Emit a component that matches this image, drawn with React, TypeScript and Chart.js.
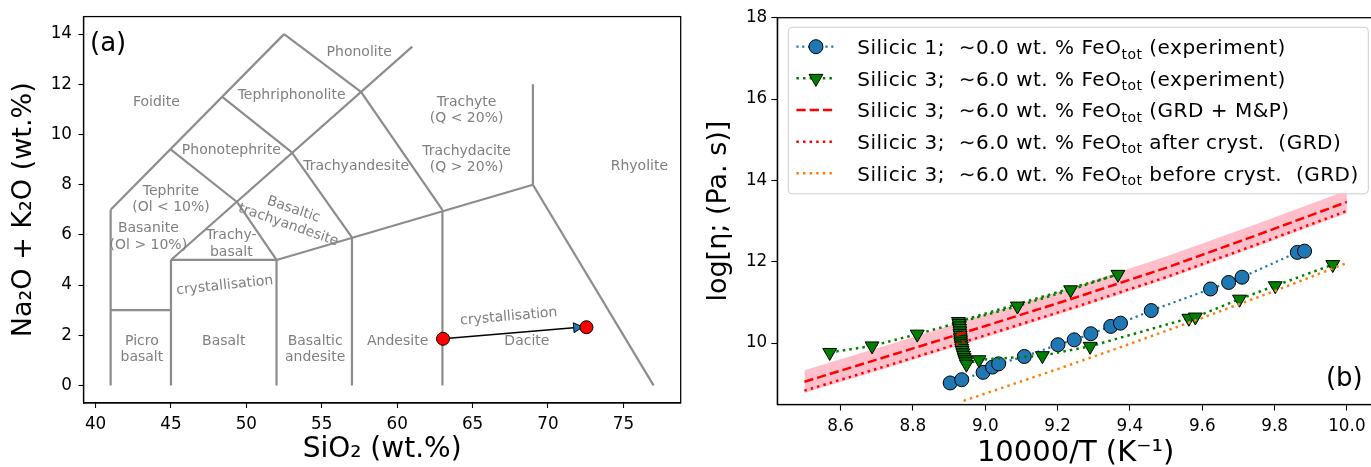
import React, { useEffect, useRef } from "react";
import { Chart, registerables } from "chart.js";

Chart.register(...registerables);
Chart.defaults.font.family = "'DejaVu Sans', 'Noto Sans', sans-serif";

// ---------------- Panel (a): TAS diagram ----------------
// boundary segments [SiO2 start, alkali start, SiO2 end, alkali end]
const tasSegments: number[][] = [
  [41, 0, 41, 7],
  [41, 7, 52.5, 14],
  [45, 0, 45, 5],
  [41, 3, 45, 3],
  [45, 5, 61, 13.5],
  [45, 5, 52, 5],
  [52, 5, 69, 8],
  [49.4, 7.3, 52, 5],
  [52, 5, 52, 0],
  [48.4, 11.5, 53, 9.3],
  [53, 9.3, 57, 5.9],
  [57, 5.9, 57, 0],
  [52.5, 14, 57.6, 11.7],
  [57.6, 11.7, 63, 7],
  [63, 7, 63, 0],
  [69, 12, 69, 8],
  [45, 9.4, 49.4, 7.3],
  [69, 8, 77, 0],
];

const fieldNames = [
  "Picro\nbasalt",
  "Basalt",
  "Basaltic\nandesite",
  "Andesite",
  "Dacite",
  "Rhyolite",
  "Trachyte\n(Q < 20%)\n\nTrachydacite\n(Q > 20%)",
  "Basaltic\ntrachyandesite",
  "Trachy-\nbasalt",
  "Trachyandesite",
  "Phonotephrite",
  "Tephriphonolite",
  "Phonolite",
  "Tephrite\n(Ol < 10%)",
  "Foidite",
  "Basanite\n(Ol > 10%)",
  "crystallisation",
  "crystallisation",
];
const fieldSiO2 = [43.07, 48.5, 54.56, 60.03, 68.6, 76.06, 64.6, 52.95, 49.0, 57.28, 49.0, 53.0, 57.48, 45.0, 44.03, 43.5, 48.57, 67.4];
const fieldAlkali = [1.43, 1.76, 1.43, 1.76, 1.76, 8.75, 9.98, 6.7, 5.64, 8.75, 9.35, 11.56, 13.26, 7.41, 11.27, 5.92, 3.98, 2.74];
const fieldRotation = [0, 0, 0, 0, 0, 0, 0, 19, 0, 0, 0, 0, 0, 0, 0, 0, -6, -5];

const sampleSiO2 = [63.04, 72.55];
const sampleAlkali = [1.86, 2.32];
const arrowSiO2 = [63.04, 72.3];
const arrowAlkali = [1.86, 2.33];

const tasXTicks = [40, 45, 50, 55, 60, 65, 70, 75];
const tasYTicks = [0, 2, 4, 6, 8, 10, 12, 14];

// ---------------- Panel (b): viscosity ----------------
const sil1InvT = [8.903, 8.935, 8.994, 9.02, 9.037, 9.108, 9.201, 9.246, 9.292, 9.347, 9.374, 9.459, 9.623, 9.673, 9.71, 9.863, 9.883];
const sil1LogEta = [9.02, 9.1, 9.28, 9.41, 9.49, 9.67, 9.96, 10.08, 10.23, 10.41, 10.49, 10.8, 11.33, 11.49, 11.62, 12.23, 12.26];

const sil3InvT = [
  8.57, 8.687, 8.812, 9.089, 9.236, 9.367,
  8.926, 8.927, 8.928, 8.929, 8.93, 8.93, 8.931, 8.931, 8.932, 8.932, 8.933, 8.934,
  8.935, 8.936, 8.938, 8.94, 8.942, 8.944, 8.946, 8.948,
  8.983, 9.158, 9.29, 9.563, 9.581, 9.703, 9.802, 9.961,
];
const sil3LogEta = [
  9.77, 9.93, 10.22, 10.91, 11.31, 11.69,
  10.53, 10.48, 10.42, 10.36, 10.3, 10.24, 10.19, 10.13, 10.08, 10.03, 9.98, 9.93,
  9.87, 9.82, 9.76, 9.7, 9.64, 9.59, 9.54, 9.48,
  9.59, 9.69, 9.92, 10.61, 10.64, 11.08, 11.41, 11.93,
];

const grdInvT = [8.5, 8.75, 9.0, 9.25, 9.5, 9.75, 10.0];
const grdLogEta = [9.05, 9.73, 10.42, 11.12, 11.85, 12.65, 13.47];
const grdUpper = [9.33, 10.01, 10.7, 11.4, 12.13, 12.93, 13.75];
const grdLower = [8.77, 9.45, 10.14, 10.84, 11.57, 12.37, 13.19];
const afterLogEta = [8.83, 9.5, 10.19, 10.89, 11.62, 12.42, 13.25];

const beforeInvT = [8.94, 9.2, 9.4, 9.6, 9.8, 10.0];
const beforeLogEta = [8.58, 9.36, 9.98, 10.62, 11.28, 11.97];

const viscXTicks = [8.6, 8.8, 9.0, 9.2, 9.4, 9.6, 9.8, 10.0];
const viscYTicks = [10, 12, 14, 16, 18];

const legendLabels = [
  "Silicic 1;  ∼0.0 wt. % FeO_{tot} (experiment)",
  "Silicic 3;  ∼6.0 wt. % FeO_{tot} (experiment)",
  "Silicic 3;  ∼6.0 wt. % FeO_{tot} (GRD + M&P)",
  "Silicic 3;  ∼6.0 wt. % FeO_{tot} after cryst.  (GRD)",
  "Silicic 3;  ∼6.0 wt. % FeO_{tot} before cryst.  (GRD)",
];

const zip = (xs: number[], ys: number[]) => xs.map((x, i) => ({ x, y: ys[i] }));

const FONT = "'DejaVu Sans', 'Noto Sans', sans-serif";
const GRAY_LINE = "#8c8c8c";
const GRAY_TEXT = "#7f7f7f";

const framePlugin = {
  id: "frame",
  afterDraw(chart: any) {
    const { ctx, chartArea: a } = chart;
    ctx.save();
    ctx.strokeStyle = "#000";
    ctx.lineWidth = 1.25;
    ctx.strokeRect(a.left, a.top, a.right - a.left, a.bottom - a.top);
    ctx.restore();
  },
};

const tasPlugin = {
  id: "tasDecor",
  beforeDatasetDraw(chart: any, args: any) {
    if (args.index !== chart.data.datasets.length - 1) return;
    const { ctx } = chart;
    const xs = chart.scales.x;
    const ys = chart.scales.y;
    const x0 = xs.getPixelForValue(arrowSiO2[0]);
    const y0 = ys.getPixelForValue(arrowAlkali[0]);
    const x1 = xs.getPixelForValue(arrowSiO2[1]);
    const y1 = ys.getPixelForValue(arrowAlkali[1]);
    const ang = Math.atan2(y1 - y0, x1 - x0);
    const headLen = 9;
    const headW = 5;
    const bx = x1 - headLen * Math.cos(ang);
    const by = y1 - headLen * Math.sin(ang);
    ctx.save();
    ctx.strokeStyle = "#000";
    ctx.lineWidth = 1.4;
    ctx.beginPath();
    ctx.moveTo(x0, y0);
    ctx.lineTo(bx, by);
    ctx.stroke();
    ctx.beginPath();
    ctx.moveTo(x1, y1);
    ctx.lineTo(bx - headW * Math.sin(ang), by + headW * Math.cos(ang));
    ctx.lineTo(bx + headW * Math.sin(ang), by - headW * Math.cos(ang));
    ctx.closePath();
    ctx.fillStyle = "#1f77b4";
    ctx.fill();
    ctx.lineWidth = 1;
    ctx.stroke();
    ctx.restore();
  },
  afterDatasetsDraw(chart: any) {
    const { ctx, chartArea: a } = chart;
    const xs = chart.scales.x;
    const ys = chart.scales.y;
    ctx.save();
    ctx.fillStyle = GRAY_TEXT;
    ctx.font = `14px ${FONT}`;
    ctx.textAlign = "center";
    ctx.textBaseline = "middle";
    const lh = 16.3;
    fieldNames.forEach((name, i) => {
      const lines = name.split("\n");
      const px = xs.getPixelForValue(fieldSiO2[i]);
      const py = ys.getPixelForValue(fieldAlkali[i]);
      ctx.save();
      ctx.translate(px, py);
      ctx.rotate((fieldRotation[i] * Math.PI) / 180);
      lines.forEach((ln, j) => {
        ctx.fillText(ln, 0, (j - (lines.length - 1) / 2) * lh);
      });
      ctx.restore();
    });
    ctx.fillStyle = "#000";
    ctx.font = `26px ${FONT}`;
    ctx.textAlign = "left";
    ctx.textBaseline = "alphabetic";
    ctx.fillText("(a)", a.left + 6.5, a.top + 34);
    ctx.restore();
  },
};

function drawLegendMarker(ctx: any, style: string, cx: number, cy: number, r: number, fill: string) {
  ctx.beginPath();
  if (style === "circle") {
    ctx.arc(cx, cy, r, 0, Math.PI * 2);
  } else {
    ctx.moveTo(cx, cy + r);
    ctx.lineTo(cx - r * Math.sin(Math.PI / 3), cy - r * 0.5);
    ctx.lineTo(cx + r * Math.sin(Math.PI / 3), cy - r * 0.5);
    ctx.closePath();
  }
  ctx.fillStyle = fill;
  ctx.fill();
  ctx.strokeStyle = "#000";
  ctx.lineWidth = 1;
  ctx.setLineDash([]);
  ctx.stroke();
}

const viscPlugin = {
  id: "viscDecor",
  afterDraw(chart: any) {
    const { ctx, chartArea: a } = chart;
    ctx.save();
    // (b) label
    ctx.fillStyle = "#000";
    ctx.font = `26px ${FONT}`;
    ctx.textAlign = "right";
    ctx.textBaseline = "alphabetic";
    ctx.fillText("(b)", a.right - 11.3, a.bottom - 19);

    // legend
    const bx = a.left + 11;
    const by = a.top + 9.6;
    const bw = 580;
    const bh = 166.5;
    const rr = 4;
    ctx.beginPath();
    ctx.moveTo(bx + rr, by);
    ctx.lineTo(bx + bw - rr, by);
    ctx.arcTo(bx + bw, by, bx + bw, by + rr, rr);
    ctx.lineTo(bx + bw, by + bh - rr);
    ctx.arcTo(bx + bw, by + bh, bx + bw - rr, by + bh, rr);
    ctx.lineTo(bx + rr, by + bh);
    ctx.arcTo(bx, by + bh, bx, by + bh - rr, rr);
    ctx.lineTo(bx, by + rr);
    ctx.arcTo(bx, by, bx + rr, by, rr);
    ctx.closePath();
    ctx.fillStyle = "rgba(255,255,255,0.8)";
    ctx.fill();
    ctx.strokeStyle = "#cccccc";
    ctx.lineWidth = 1;
    ctx.stroke();

    const dsIdx = [2, 3, 4, 5, 6];
    legendLabels.forEach((label, i) => {
      const ds = chart.data.datasets[dsIdx[i]];
      const cy = by + 19.4 + i * 31.65;
      const hx0 = bx + 8.1;
      const hx1 = bx + 47.2;
      ctx.save();
      ctx.strokeStyle = ds.borderColor;
      ctx.lineWidth = ds.borderWidth;
      ctx.setLineDash(ds.borderDash || []);
      ctx.beginPath();
      ctx.moveTo(hx0, cy);
      ctx.lineTo(hx1, cy);
      ctx.stroke();
      ctx.restore();
      if (ds.pointRadius > 0) {
        drawLegendMarker(ctx, ds.pointStyle === "triangle" ? "tri" : "circle", (hx0 + hx1) / 2, cy, ds.pointRadius, ds.pointBackgroundColor);
      }
      // text with subscript
      const m = label.match(/^(.*)_\{(.*?)\}(.*)$/);
      const pre = m ? m[1] : label;
      const sub = m ? m[2] : "";
      const post = m ? m[3] : "";
      const baseY = cy + 7.3;
      let tx = bx + 69;
      ctx.fillStyle = "#000";
      ctx.textAlign = "left";
      ctx.textBaseline = "alphabetic";
      (ctx as any).letterSpacing = "0.5px";
      ctx.font = `20px ${FONT}`;
      ctx.fillText(pre, tx, baseY);
      tx += ctx.measureText(pre).width;
      ctx.font = `14px ${FONT}`;
      ctx.fillText(sub, tx, baseY + 4.5);
      tx += ctx.measureText(sub).width;
      ctx.font = `20px ${FONT}`;
      ctx.fillText(post, tx, baseY);
      (ctx as any).letterSpacing = "0px";
    });
    ctx.restore();
  },
};

function axisCommon(ticksArr: number[], fmt: (v: number) => string, tickLen: number, pad: number) {
  return {
    type: "linear" as const,
    afterBuildTicks: (s: any) => {
      s.ticks = ticksArr.map((v) => ({ value: v }));
    },
    ticks: {
      color: "#000",
      font: { size: 16.8 },
      padding: pad,
      autoSkip: false,
      maxRotation: 0,
      callback: (v: any) => fmt(Number(v)),
    },
    grid: { drawOnChartArea: false, drawTicks: true, tickLength: tickLen, color: "#000", tickWidth: 1.1 },
    border: { display: true, color: "#000", width: 1.25 },
  };
}

export default function App() {
  const leftRef = useRef<HTMLCanvasElement>(null);
  const rightRef = useRef<HTMLCanvasElement>(null);

  useEffect(() => {
    const segDatasets = tasSegments.map((s) => ({
      data: [
        { x: s[0], y: s[1] },
        { x: s[2], y: s[3] },
      ],
      showLine: true,
      borderColor: GRAY_LINE,
      borderWidth: 2.2,
      pointRadius: 0,
      fill: false,
      order: 2,
    }));
    const left = new Chart(leftRef.current!, {
      type: "scatter",
      data: {
        datasets: [
          ...segDatasets,
          {
            data: zip(sampleSiO2, sampleAlkali),
            showLine: false,
            pointRadius: 6.5,
            pointBackgroundColor: "#ff0000",
            pointBorderColor: "#000",
            pointBorderWidth: 1,
            order: 1,
          },
        ] as any,
      },
      options: {
        responsive: false,
        animation: false,
        devicePixelRatio: 1,
        layout: { padding: { top: 15.5, right: 9.3, left: 0, bottom: 0 } },
        plugins: { legend: { display: false }, tooltip: { enabled: false } },
        scales: {
          x: {
            ...axisCommon(tasXTicks, (v) => String(v), 5, 7),
            min: 39.2,
            max: 78.8,
            afterFit: (s: any) => {
              s.height = 64;
            },
            title: {
              display: true,
              text: "SiO₂ (wt.%)",
              color: "#000",
              font: { size: 28, lineHeight: 1.2 },
              padding: { top: 0, bottom: 0 },
            },
          },
          y: {
            ...axisCommon(tasYTicks, (v) => String(v), 5, 6.5),
            min: -0.7,
            max: 14.7,
            afterFit: (s: any) => {
              s.width = 83.5;
            },
            title: {
              display: true,
              text: "Na₂O + K₂O (wt.%)",
              color: "#000",
              font: { size: 27, lineHeight: 1.2 },
              padding: { top: 8.1, bottom: 0 },
            },
          },
        } as any,
      },
      plugins: [tasPlugin, framePlugin],
    });

    const right = new Chart(rightRef.current!, {
      type: "scatter",
      data: {
        datasets: [
          {
            data: zip(grdInvT, grdUpper),
            showLine: true,
            borderWidth: 0,
            borderColor: "rgba(0,0,0,0)",
            pointRadius: 0,
            fill: false,
            order: 10,
          },
          {
            data: zip(grdInvT, grdLower),
            showLine: true,
            borderWidth: 0,
            borderColor: "rgba(0,0,0,0)",
            backgroundColor: "rgb(255,192,203)",
            pointRadius: 0,
            fill: "-1",
            order: 9,
          },
          {
            data: zip(sil1InvT, sil1LogEta),
            showLine: true,
            borderColor: "#1f77b4",
            borderWidth: 2.2,
            borderDash: [2.2, 3.6],
            pointRadius: 7,
            pointStyle: "circle",
            pointBackgroundColor: "#1f77b4",
            pointBorderColor: "#000",
            pointBorderWidth: 1,
            order: 5,
          },
          {
            data: zip(sil3InvT, sil3LogEta),
            showLine: true,
            borderColor: "#008000",
            borderWidth: 2.5,
            borderDash: [2.5, 4.1],
            pointRadius: 8,
            pointStyle: "triangle",
            pointRotation: 180,
            pointBackgroundColor: "#008000",
            pointBorderColor: "#000",
            pointBorderWidth: 1,
            order: 4,
          },
          {
            data: zip(grdInvT, grdLogEta),
            showLine: true,
            borderColor: "#ff0000",
            borderWidth: 2.5,
            borderDash: [9.25, 4],
            pointRadius: 0,
            order: 3,
          },
          {
            data: zip(grdInvT, afterLogEta),
            showLine: true,
            borderColor: "#ff0000",
            borderWidth: 2.5,
            borderDash: [2.5, 4.1],
            pointRadius: 0,
            order: 2,
          },
          {
            data: zip(beforeInvT, beforeLogEta),
            showLine: true,
            borderColor: "#ff7f0e",
            borderWidth: 2.5,
            borderDash: [2.5, 4.1],
            pointRadius: 0,
            order: 1,
          },
        ] as any,
      },
      options: {
        responsive: false,
        animation: false,
        devicePixelRatio: 1,
        layout: { padding: { top: 17.7, right: 16, left: 0, bottom: 0 } },
        plugins: { legend: { display: false }, tooltip: { enabled: false } },
        scales: {
          x: {
            ...axisCommon(viscXTicks, (v) => v.toFixed(1), 6, 6.5),
            min: 8.425,
            max: 10.075,
            afterFit: (s: any) => {
              s.height = 62.5;
            },
            title: {
              display: true,
              text: "10000/T (K⁻¹)",
              color: "#000",
              font: { size: 29, lineHeight: 0.9 },
              padding: { top: 0, bottom: 0 },
            },
          },
          y: {
            ...axisCommon(viscYTicks, (v) => String(v), 6, 4),
            min: 8.49,
            max: 18,
            afterFit: (s: any) => {
              s.width = 87.3;
            },
            title: {
              display: true,
              text: "log[η; (Pa. s)]",
              color: "#000",
              font: { size: 27, lineHeight: 1.2 },
              padding: { top: 13.1, bottom: 0 },
            },
          },
        } as any,
      },
      plugins: [framePlugin, viscPlugin],
    });

    return () => {
      left.destroy();
      right.destroy();
    };
  }, []);

  return (
    <div
      style={{
        position: "fixed",
        left: 0,
        top: 0,
        width: 1371,
        height: 467,
        overflow: "hidden",
        background: "#fff",
      }}
    >
      <canvas ref={leftRef} width={690} height={467} style={{ position: "absolute", left: 0, top: 0 }} />
      <canvas ref={rightRef} width={700} height={467} style={{ position: "absolute", left: 690, top: 0 }} />
    </div>
  );
}
